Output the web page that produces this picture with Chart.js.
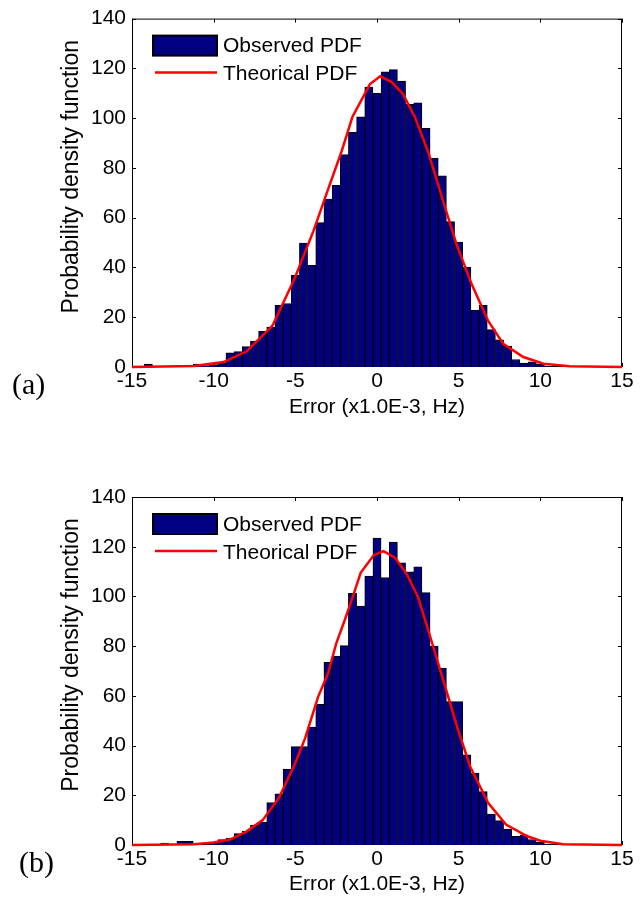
<!DOCTYPE html>
<html>
<head>
<meta charset="utf-8">
<script src="https://cdn.jsdelivr.net/npm/chart.js@4.4.0/dist/chart.umd.min.js"></script>
<style>
    body { margin: 0; background: #fff; width: 643px; height: 909px; position: relative; overflow: hidden; }
    .painel { position: absolute; left: 0; width: 643px; }
    .letra { position: absolute; font-family: "Liberation Serif", "Times New Roman", serif; font-size: 30px; line-height: 30px; color: #000; }
</style>
</head>
<body>
<div class="painel" style="top:0;height:450px"><canvas id="graficoA"></canvas></div>
<div class="painel" style="top:450px;height:459px"><canvas id="graficoB"></canvas></div>
<div class="letra" style="left:12px;top:369px">(a)</div>
<div class="letra" style="left:19px;top:847px">(b)</div>

<script>
// (a) histograma observado - centro de cada classe e altura
const binsA = [-14, -11.5, -11, -10.5, -10, -9.5, -9, -8.5, -8, -7.5, -7, -6.5, -6, -5.5, -5, -4.5, -4, -3.5, -3, -2.5, -2, -1.5, -1, -0.5, 0, 0.5, 1, 1.5, 2, 2.5, 3, 3.5, 4, 4.5, 5, 5.5, 6, 6.5, 7, 7.5, 8, 8.5, 9, 9.5, 10, 10.5];
const observadoA = [1.2, 0.8, 1.2, 0.6, 1, 1.7, 5.7, 6.2, 8.2, 10.4, 14.3, 16, 24.8, 25.5, 36.8, 49.8, 40.9, 58, 67.5, 73, 85.4, 94.3, 100.5, 112.5, 110, 118.6, 119.5, 114.9, 105.6, 106.2, 95.9, 84, 76.8, 58.4, 50.2, 40.2, 22.8, 24.8, 15, 10.9, 8.4, 3, 1.6, 2.1, 1.3, 0.4];

// (a) curva teorica
const curvaXA = [-15, -11.2, -9.4, -8, -6.4, -5.05, -3.9, -2.98, -2.17, -1.5, -0.43, 0.2, 0.9, 1.6, 2.33, 3.14, 4.06, 4.88, 5.8, 6.8, 7.73, 8.96, 10.2, 11.8, 15];
const teoricoA = [0, 0.4, 2, 6.2, 16.6, 35.5, 54.5, 71.7, 86.6, 100.6, 113.7, 116.8, 114.5, 109.6, 100.3, 86.3, 66.4, 49.1, 33.2, 18.6, 9.3, 4, 1.3, 0.3, 0];

// (b) histograma observado
const binsB = [-13, -12, -11.5, -10, -9.5, -9, -8.5, -8, -7.5, -7, -6.5, -6, -5.5, -5, -4.5, -4, -3.5, -3, -2.5, -2, -1.5, -1, -0.5, 0, 0.5, 1, 1.5, 2, 2.5, 3, 3.5, 4, 4.5, 5, 5.5, 6, 6.5, 7, 7.5, 8, 8.5, 9, 9.5, 10, 10.5];
const observadoB = [0.8, 1.5, 1.5, 1.2, 2.2, 2.8, 4.6, 5.5, 8, 9.2, 17.1, 20.6, 30.5, 39.6, 39.6, 47.4, 56.6, 73.5, 76, 80.2, 101.2, 96.1, 108.2, 123.5, 107.6, 121.9, 113.5, 109.9, 111.9, 101.5, 80, 71.2, 57.7, 57.7, 36.3, 28.9, 21.5, 12.4, 9.8, 6.4, 3.5, 4.1, 2.2, 1.2, 0.4];

// (b) curva teorica
const curvaXB = [-15, -11.2, -10, -9, -8, -7, -6, -5, -4.4, -3.6, -3, -2.5, -2, -1.5, -1, -0.2, 0.4, 1.1, 1.8, 2.5, 3.2, 4.05, 4.45, 4.9, 5.7, 6.8, 7.9, 9.2, 10, 11.4, 15];
const teoricoB = [0, 0.3, 1, 2.2, 5.4, 10, 19, 33, 43, 59.7, 69, 81, 90, 99.5, 109.5, 116.6, 118.2, 115.6, 109.2, 100, 85, 66.4, 57.7, 47.6, 31.6, 17, 8.2, 3.5, 1.7, 0.3, 0];

// eixos e textos
const ticksX = [-15, -10, -5, 0, 5, 10, 15];
const ticksY = [0, 20, 40, 60, 80, 100, 120, 140];
const tituloEixoX = "Error (x1.0E-3, Hz)";
const tituloEixoY = "Probability density function";
const nomeObservado = "Observed PDF";
const nomeTeorico = "Theorical PDF";

const fonte = '"Liberation Sans", Arial, sans-serif';
Chart.defaults.font.family = fonte;
Chart.defaults.font.size = 21;
Chart.defaults.color = "#000";

// moldura estilo matlab: caixa, ticks pra dentro nos 4 lados, legenda e titulo do eixo y
const molduraMatlab = {
    id: "molduraMatlab",
    beforeDatasetsDraw(chart) {
        const { ctx, chartArea: a, scales } = chart;
        ctx.save();
        ctx.strokeStyle = "#000";
        ctx.lineWidth = 1;
        ctx.strokeRect(a.left + 0.5, a.top + 0.5, a.width - 1, a.height - 1);

        ctx.beginPath();
        scales.x.ticks.forEach((t) => {
            let px = Math.round(scales.x.getPixelForValue(t.value)) + 0.5;
            ctx.moveTo(px, a.bottom); ctx.lineTo(px, a.bottom - 4);
            ctx.moveTo(px, a.top); ctx.lineTo(px, a.top + 4);
        });
        scales.y.ticks.forEach((t) => {
            let py = Math.round(scales.y.getPixelForValue(t.value)) + 0.5;
            ctx.moveTo(a.left, py); ctx.lineTo(a.left + 4, py);
            ctx.moveTo(a.right, py); ctx.lineTo(a.right - 4, py);
        });
        ctx.stroke();
        ctx.restore();
    },
    afterDatasetsDraw(chart) {
        const { ctx, chartArea: a } = chart;
        const barras = chart.data.datasets[0];
        const linha = chart.data.datasets[1];
        ctx.save();
        ctx.fillStyle = barras.backgroundColor;
        ctx.fillRect(a.left + 21, a.top + 17, 64, 20);
        ctx.strokeStyle = "#000";
        ctx.lineWidth = 2;
        ctx.strokeRect(a.left + 21, a.top + 17, 64, 20);

        ctx.strokeStyle = linha.borderColor;
        ctx.lineWidth = 2.5;
        ctx.beginPath();
        ctx.moveTo(a.left + 23, a.top + 54);
        ctx.lineTo(a.left + 85, a.top + 54);
        ctx.stroke();

        ctx.fillStyle = "#000";
        ctx.font = "21px " + fonte;
        ctx.textBaseline = "middle";
        ctx.fillText(barras.label, a.left + 91, a.top + 28);
        ctx.fillText(linha.label, a.left + 91, a.top + 56);

        // titulo do eixo y (um pouco acima do centro, como no original)
        ctx.translate(72, (a.top + a.bottom) / 2 - 16);
        ctx.rotate(-Math.PI / 2);
        ctx.textAlign = "center";
        ctx.font = "23px " + fonte;
        ctx.fillText(tituloEixoY, 0, 0);
        ctx.restore();
    }
};

function montarGrafico(idCanvas, bins, observado, curvaX, teorico, ajuste) {
    let dadosBarras = bins.map((b, i) => ({ x: b, y: observado[i] }));
    let dadosCurva = curvaX.map((c, i) => ({ x: c, y: teorico[i] }));

    return new Chart(document.getElementById(idCanvas), {
        type: "bar",
        data: {
            datasets: [{
                type: "bar",
                label: nomeObservado,
                data: dadosBarras,
                backgroundColor: "#000080",
                borderColor: "#000",
                borderWidth: 1,
                categoryPercentage: 1,
                barPercentage: 1,
                order: 2
            }, {
                type: "line",
                label: nomeTeorico,
                data: dadosCurva,
                borderColor: "#ff0000",
                borderWidth: 2.5,
                pointRadius: 0,
                tension: 0,
                clip: false,
                order: 1
            }]
        },
        options: {
            responsive: true,
            maintainAspectRatio: false,
            animation: false,
            layout: { padding: { top: ajuste.topo, right: 21, left: 0, bottom: 0 } },
            plugins: { legend: { display: false }, tooltip: { enabled: false } },
            scales: {
                x: {
                    type: "linear",
                    min: ticksX[0],
                    max: ticksX[ticksX.length - 1],
                    offset: false,
                    grid: { display: false, drawTicks: false },
                    border: { display: false },
                    afterBuildTicks: (s) => { s.ticks = ticksX.map((v) => ({ value: v })); },
                    ticks: { padding: 2, maxRotation: 0, autoSkip: false },
                    title: { display: true, text: tituloEixoX, padding: { top: 0, bottom: ajuste.tituloX } },
                    afterFit: (s) => { s.height = ajuste.alturaX; }
                },
                y: {
                    min: ticksY[0],
                    max: ticksY[ticksY.length - 1],
                    grid: { display: false, drawTicks: false },
                    border: { display: false },
                    afterBuildTicks: (s) => { s.ticks = ticksY.map((v) => ({ value: v })); },
                    ticks: { padding: 6 },
                    title: { display: false },
                    afterFit: (s) => { s.width = 132; }
                }
            }
        },
        plugins: [molduraMatlab]
    });
}

montarGrafico("graficoA", binsA, observadoA, curvaXA, teoricoA, { topo: 15, alturaX: 83, tituloX: 30 });
montarGrafico("graficoB", binsB, observadoB, curvaXB, teoricoB, { topo: 47, alturaX: 64, tituloX: 12 });
</script>
</body>
</html>
